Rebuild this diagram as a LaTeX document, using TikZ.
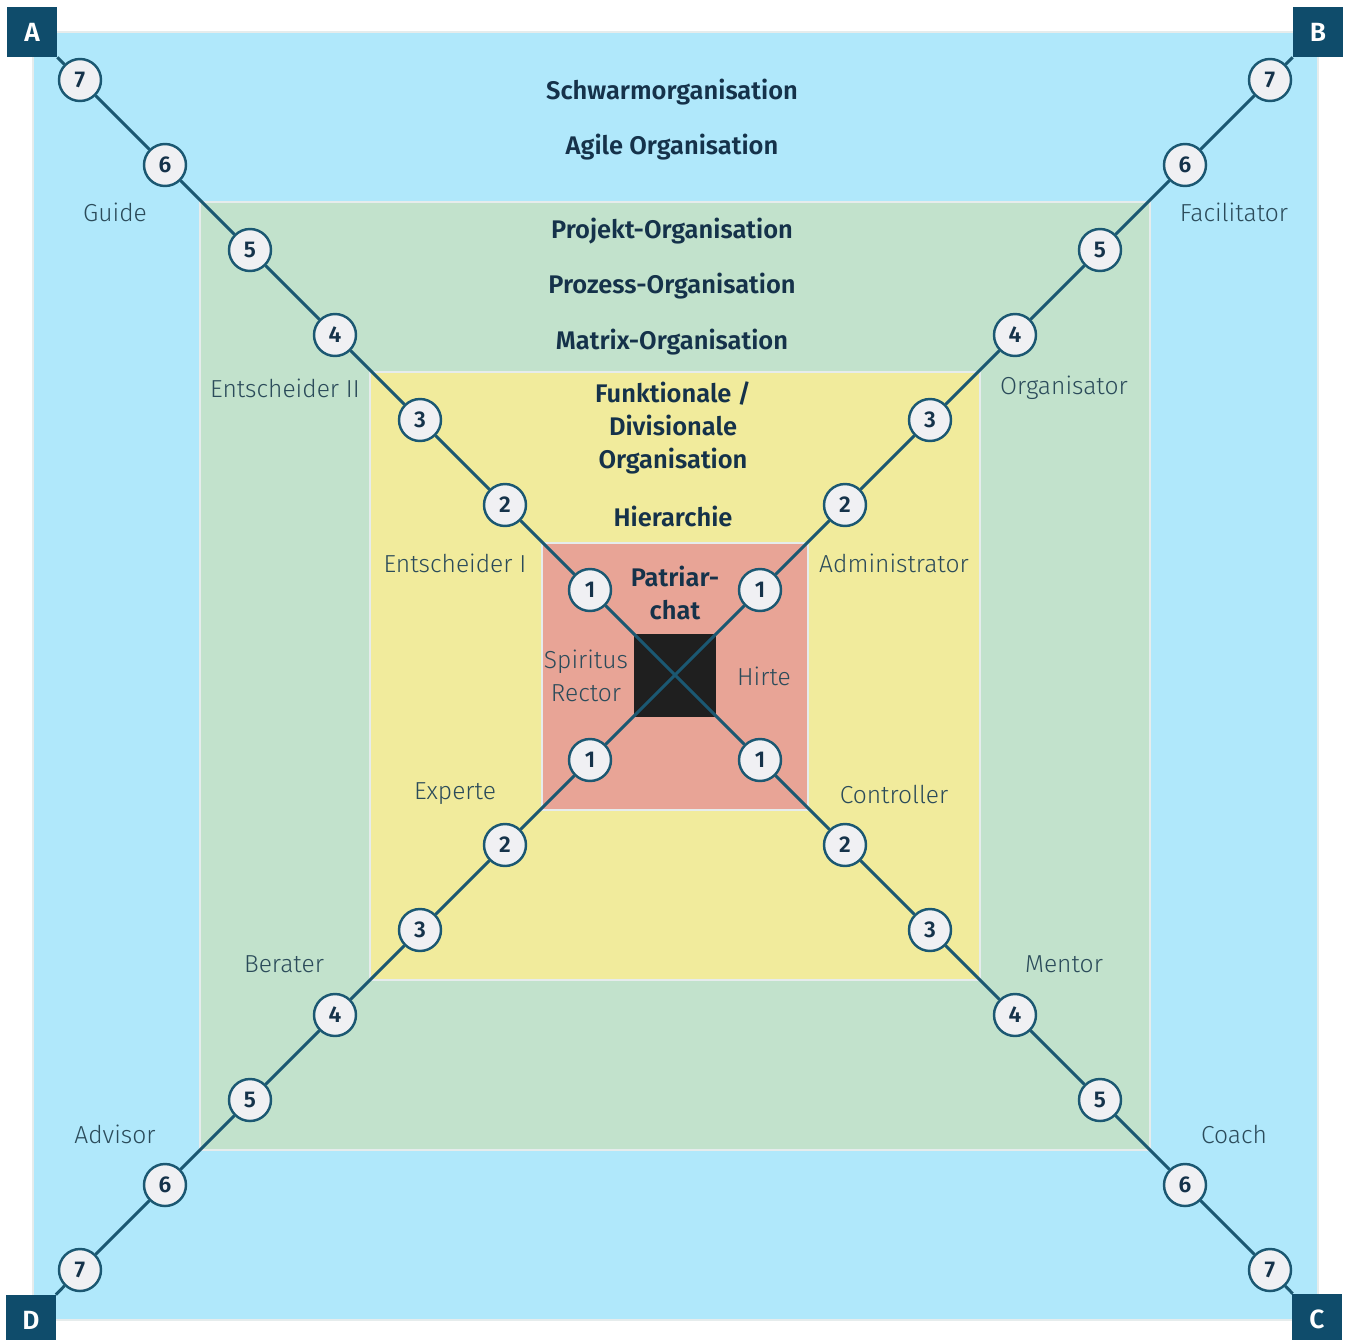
\documentclass[tikz,border=0pt]{standalone}
\usepackage{fontspec}
\IfFontExistsTF{Fira Sans Light}{%
  \setmainfont{Fira Sans Light}[BoldFont={Fira Sans SemiBold}]%
}{%
  \setmainfont{Fira Sans}%
}
\definecolor{blueBg}{HTML}{B0E8FB}
\definecolor{greenBg}{HTML}{C2E2CC}
\definecolor{yellowBg}{HTML}{F1EB9C}
\definecolor{redBg}{HTML}{E8A496}
\definecolor{boxTeal}{HTML}{0F4C6B}
\definecolor{lineTeal}{HTML}{1B5872}
\definecolor{circFill}{HTML}{F0F0F3}
\definecolor{titleCol}{HTML}{15324A}
\definecolor{labelCol}{HTML}{2B4B5A}
\definecolor{frameCol}{HTML}{E6ECEC}
\begin{document}
\begin{tikzpicture}[x=0.02cm,y=-0.02cm,
  frame/.style={draw=frameCol,line width=1.6pt},
  cornerbox/.style={fill=boxTeal,text=white,minimum size=1cm,inner sep=0pt,font=\bfseries\fontsize{15}{17}\selectfont},
  num/.style={circle,draw=lineTeal,line width=1.4pt,fill=circFill,minimum size=0.84cm,inner sep=0pt,text=titleCol,font=\bfseries\fontsize{13}{15}\selectfont},
  conn/.style={draw=lineTeal,line width=1.7pt},
  title/.style={text=titleCol,font=\bfseries\fontsize{14.5}{19}\selectfont,align=center,inner sep=0pt},
  lab/.style={text=labelCol,font=\fontsize{14}{19}\selectfont,align=center,inner sep=0pt}]
\useasboundingbox (0,0) rectangle (1348,1339);
\fill[white] (0,0) rectangle (1348,1339);
% nested squares
\draw[frame,fill=blueBg] (33,32) rectangle (1318,1320);
\draw[frame,fill=greenBg] (200,202) rectangle (1150,1150);
\draw[frame,fill=yellowBg] (370,372) rectangle (980,980);
\draw[frame,fill=redBg] (542,543) rectangle (808,810);
\fill[black!88] (634,634) rectangle (716,717);
% corner boxes
\node[cornerbox] (A) at (32,32) {A};
\node[cornerbox] (B) at (1318,32) {B};
\node[cornerbox] (C) at (1317,1319) {C};
\node[cornerbox] (D) at (31,1320) {D};
% numbered circles
\foreach \k in {1,...,7}{
  \pgfmathtruncatemacro\d{85*\k}
  \node[num] (nw\k) at ({675-\d},{675-\d}) {\k};
  \node[num] (ne\k) at ({675+\d},{675-\d}) {\k};
  \node[num] (sw\k) at ({675-\d},{675+\d}) {\k};
  \node[num] (se\k) at ({675+\d},{675+\d}) {\k};
}
% connectors
\draw[conn] (A) -- (nw7);
\draw[conn] (B) -- (ne7);
\draw[conn] (C) -- (se7);
\draw[conn] (D) -- (sw7);
\foreach \k [evaluate=\k as \j using int(\k-1)] in {2,...,7}{
  \draw[conn] (nw\k) -- (nw\j);
  \draw[conn] (ne\k) -- (ne\j);
  \draw[conn] (sw\k) -- (sw\j);
  \draw[conn] (se\k) -- (se\j);
}
\draw[conn] (nw1) -- (se1);
\draw[conn] (ne1) -- (sw1);
% titles
\node[title] (t1) at (672,92) {Schwarmorganisation};
\node[title] (t2) at (672,147) {Agile Organisation};
\node[title] (t3) at (672,231) {Projekt-Organisation};
\node[title] (t4) at (672,286) {Prozess-Organisation};
\node[title] (t5) at (672,342) {Matrix-Organisation};
\node[title] (t6) at (673,428) {Funktionale /\\Divisionale\\Organisation};
\node[title] (t7) at (673,516) {Hierarchie};
\node[title] (t8) at (675,593) {Patriar-\\chat};
% role labels
\node[lab] (l1) at (115,212) {Guide};
\node[lab] (l2) at (1234,212) {Facilitator};
\node[lab] (l3) at (115,1134) {Advisor};
\node[lab] (l4) at (1234,1134) {Coach};
\node[lab] (l5) at (285,388) {Entscheider II};
\node[lab] (l6) at (1064,388) {Organisator};
\node[lab] (l7) at (284,964) {Berater};
\node[lab] (l8) at (1064,964) {Mentor};
\node[lab] (l9) at (455,563) {Entscheider I};
\node[lab] (l10) at (894,563) {Administrator};
\node[lab] (l11) at (455,794) {Experte};
\node[lab] (l12) at (894,794) {Controller};
\node[lab] (l13) at (586,676) {Spiritus\\Rector};
\node[lab] (l14) at (764,676) {Hirte};
\end{tikzpicture}
\end{document}
